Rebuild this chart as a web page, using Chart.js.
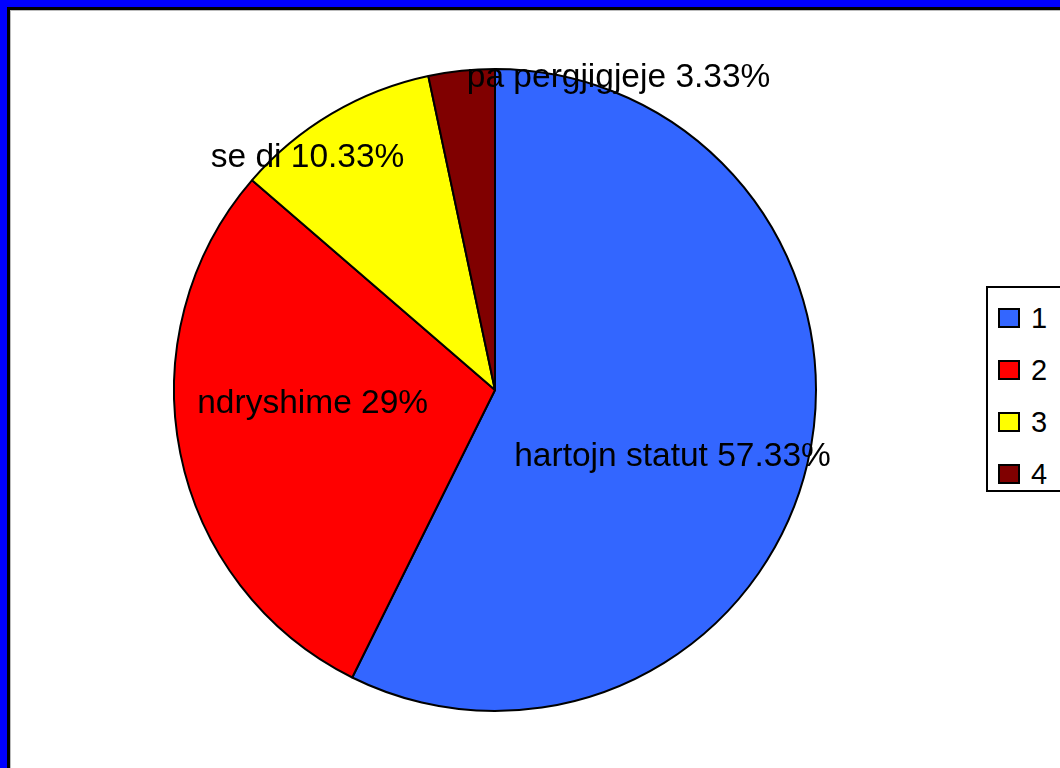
<!DOCTYPE html>
<html>
<head>
<meta charset="utf-8">
<script src="https://cdn.jsdelivr.net/npm/chart.js@4/dist/chart.umd.min.js"></script>
<style>
    html, body { margin: 0; padding: 0; background: #fff; overflow: hidden; }
    .frame { position: absolute; left: 0; top: 0; width: 1060px; height: 768px;
        border-left: 7px solid #0000ff; border-top: 7px solid #0000ff; box-sizing: border-box; }
    .frame2 { width: 100%; height: 100%; border-left: 3px solid #000; border-top: 3px solid #000;
        box-sizing: border-box; }
    .frame3 { width: 100%; height: 100%; border-left: 1px solid #bbb; border-top: 1px solid #bbb;
        box-sizing: border-box; background: #fff; }
    #grafico { position: absolute; left: 0; top: 0; }
    .legenda { position: absolute; left: 986px; top: 286px; width: 120px; height: 206px;
        border: 2px solid #000; box-sizing: border-box; background: #fff;
        font-family: "Liberation Sans", Arial, sans-serif; font-size: 29px; color: #000; }
    .item { position: absolute; left: 10px; height: 34px; line-height: 34px; }
    .item span.cor { display: inline-block; width: 18px; height: 16px; border: 2px solid #000;
        vertical-align: middle; margin-right: 11px; margin-top: -4px; }
</style>
</head>
<body>
<div class="frame"><div class="frame2"><div class="frame3"></div></div></div>
<canvas id="grafico" width="1060" height="768"></canvas>
<div class="legenda" id="legenda"></div>

<script>
    const categorias = ['hartojn statut', 'ndryshime', 'se di', 'pa pergjigjeje'];
    const legendaNomes = ['1', '2', '3', '4'];
    const valores = [57.33, 29, 10.33, 3.33];
    const cores = ['#3366ff', '#ff0000', '#ffff00', '#800000'];

    // onde fica o centro de cada rótulo, em frações do raio
    const deslocRotulos = [[0.553, 0.208], [-0.568, 0.043], [-0.584, -0.724], [0.385, -0.972]];

    const rotulosPlugin = {
        id: 'rotulos',
        afterDatasetsDraw(chart) {
            const ctx = chart.ctx;
            const meta = chart.getDatasetMeta(0);
            ctx.save();
            ctx.font = '33.5px "Liberation Sans", Arial, sans-serif';
            ctx.fillStyle = '#000';
            ctx.textAlign = 'center';
            ctx.textBaseline = 'middle';
            meta.data.forEach((arco, i) => {
                const r = arco.outerRadius;
                const x = arco.x + deslocRotulos[i][0] * r;
                const y = arco.y + deslocRotulos[i][1] * r;
                ctx.fillText(`${categorias[i]} ${valores[i]}%`, x, y);
            });
            ctx.restore();
        }
    };

    new Chart(document.getElementById('grafico').getContext('2d'), {
        type: 'pie',
        data: {
            labels: legendaNomes,
            datasets: [{
                data: valores,
                backgroundColor: cores,
                borderColor: '#000',
                borderWidth: 2
            }]
        },
        options: {
            responsive: false,
            animation: false,
            layout: {
                padding: { left: 172, right: 242, top: 68, bottom: 56 }
            },
            plugins: {
                legend: { display: false },
                tooltip: { enabled: false }
            }
        },
        plugins: [rotulosPlugin]
    });

    const legenda = document.getElementById('legenda');
    legendaNomes.forEach((nome, i) => {
        const item = document.createElement('div');
        item.className = 'item';
        item.style.top = (13 + i * 52) + 'px';
        item.innerHTML = `<span class="cor" style="background:${cores[i]}"></span>${nome}`;
        legenda.appendChild(item);
    });
</script>
</body>
</html>
